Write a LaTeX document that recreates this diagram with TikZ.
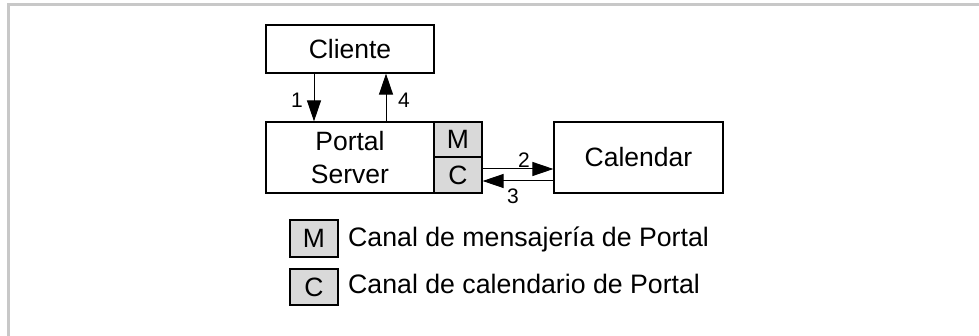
\documentclass[tikz,border=0pt]{standalone}
\usepackage{fontspec}
\setmainfont{Liberation Sans}
\usetikzlibrary{arrows.meta}
\definecolor{cellgray}{RGB}{217,217,217}
\definecolor{framegray}{RGB}{200,200,200}
\tikzset{
  box/.style={draw=black, line width=1.2pt, fill=white, inner sep=0pt, align=center,
    font=\fontsize{26.5}{33}\selectfont},
  cell/.style={box, fill=cellgray},
  arr/.style={line width=1pt, -{Triangle[length=21pt,width=14pt]}},
  num/.style={font=\fontsize{21}{23}\selectfont, inner sep=0pt},
  legtext/.style={anchor=base west, inner sep=0pt, font=\fontsize{26.7}{30}\selectfont},
}
\begin{document}
\begin{tikzpicture}[x=1pt,y=-1pt]
\useasboundingbox (0,0) rectangle (979,336);
% frame
\draw[framegray, line width=3pt] (8.5,340) -- (8.5,5) -- (985,5);
% nodes
\node[box, minimum width=168pt, minimum height=48pt] (cliente) at (350,49) {Cliente};
\node[box, minimum width=168pt, minimum height=71pt] (portal) at (350,157.5) {Portal\\Server};
\node[cell, minimum width=48pt, minimum height=35pt] (cellM) at (458,139.5) {M};
\node[cell, minimum width=48pt, minimum height=36pt] (cellC) at (458,175) {C};
\node[box, minimum width=169pt, minimum height=71pt] (calendar) at (638.5,157.5) {Calendar};
% connectors
\coordinate (a1) at (314,0);
\coordinate (a4) at (386,0);
\coordinate (a2) at (0,169);
\coordinate (a3) at (0,181);
\draw[arr] (a1 |- cliente.south) -- (a1 |- portal.north);
\draw[arr] (a4 |- portal.north) -- (a4 |- cliente.south);
\draw[arr] (cellC.east |- a2) -- (calendar.west |- a2);
\draw[arr] (calendar.west |- a3) -- (cellC.east |- a3);
\node[num] (n1) at (297,100) {1};
\node[num] (n4) at (404,100) {4};
\node[num] (n2) at (524,160) {2};
\node[num] (n3) at (513,196) {3};
% legend
\node[cell, minimum width=48pt, minimum height=37pt] (legM) at (314,238.5) {M};
\node[cell, minimum width=48pt, minimum height=36pt] (legC) at (314,287) {C};
\node[legtext] (legMt) at (348,247) {Canal de mensajería de Portal};
\node[legtext] (legCt) at (348,293.5) {Canal de calendario de Portal};
\end{tikzpicture}
\end{document}
